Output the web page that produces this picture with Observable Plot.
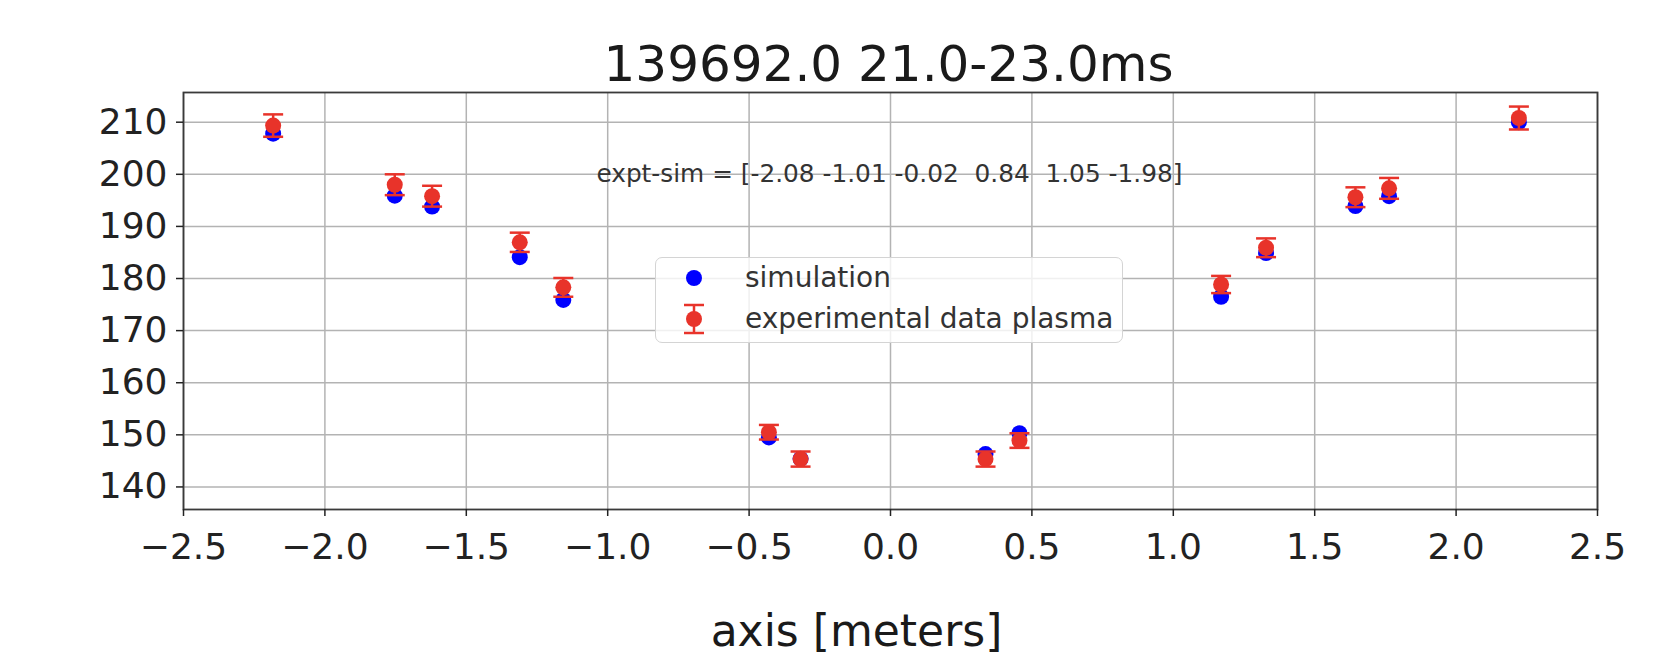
<!DOCTYPE html>
<html>
<head>
<meta charset="utf-8">
<script src="https://cdn.jsdelivr.net/npm/d3@7"></script>
<script src="https://cdn.jsdelivr.net/npm/@observablehq/plot@0.6"></script>
<style>
  body { margin: 0; background: #fff; }
  #wrap { position: relative; width: 1671px; height: 659px; }
  #wrap svg text { white-space: pre; }
  .legend {
    position: absolute; left: 655px; top: 257px; width: 466px; height: 84px;
    border: 1.5px solid #d4d4d4; border-radius: 7px; background: rgba(255,255,255,0.8);
    font-family: "DejaVu Sans", sans-serif; font-size: 28px; color: #333;
  }
  .legend .row { position: absolute; left: 0; width: 100%; height: 40px; }
  .legend .mk { position: absolute; left: 24px; top: 0; width: 28px; height: 40px; }
  .legend .lbl { position: absolute; left: 89px; top: 0; height: 40px; line-height: 40px; white-space: nowrap; }
</style>
</head>
<body>
<div id="wrap"></div>
<script>
// ---- data ----
const xPos = [-2.183, -1.753, -1.621, -1.311, -1.157, -0.430, -0.318, 0.336, 0.456, 1.169, 1.328, 1.644, 1.763, 2.222];
const simulation = [207.8, 195.9, 193.8, 184.1, 175.9, 149.5, 145.4, 146.3, 150.3, 176.5, 184.9, 193.9, 195.8, 210.0];
const experimental = [209.35, 198.0, 195.8, 186.95, 178.3, 150.5, 145.35, 145.35, 148.9, 178.85, 185.9, 195.6, 197.3, 210.8];
const expError = [2.15, 2.0, 2.0, 1.85, 1.8, 1.4, 1.45, 1.45, 1.4, 1.65, 1.8, 1.9, 2.0, 2.2];
const xTicks = [-2.5, -2.0, -1.5, -1.0, -0.5, 0.0, 0.5, 1.0, 1.5, 2.0, 2.5];
const yTicks = [140, 150, 160, 170, 180, 190, 200, 210];
const xDomain = [-2.5, 2.5];
const yDomain = [135.67, 215.7];
const titleText = "139692.0 21.0-23.0ms";
const xLabelText = "axis [meters]";
const annotationText = "expt-sim = [-2.08 -1.01 -0.02  0.84  1.05 -1.98]";
const annotationPos = {x: -1.04, y: 200};
const seriesNames = ["simulation", "experimental data plasma"];

// ---- tables built from the arrays ----
const simRows = xPos.map((x, i) => ({x, y: simulation[i]}));
const expRows = xPos.map((x, i) => ({x, y: experimental[i], lo: experimental[i] - expError[i], hi: experimental[i] + expError[i]}));

const BLUE = "#0000ff";
const RED = "#e8332a";
const capSymbol = {
  draw(ctx, size) {
    const w = Math.sqrt(size / Math.PI);
    ctx.moveTo(-w, 0); ctx.lineTo(w, 0);
  }
};

const chart = Plot.plot({
  width: 1671, height: 659,
  marginLeft: 183, marginRight: 74, marginTop: 92, marginBottom: 150,
  style: {fontFamily: "DejaVu Sans, sans-serif", color: "#222", background: "transparent"},
  x: {domain: xDomain},
  y: {domain: yDomain},
  marks: [
    Plot.gridX(xTicks, {stroke: "#b3b3b3", strokeOpacity: 1, strokeWidth: 1.5}),
    Plot.gridY(yTicks, {stroke: "#b3b3b3", strokeOpacity: 1, strokeWidth: 1.5}),
    Plot.frame({stroke: "#3a3a3a", strokeWidth: 1.8}),
    Plot.axisX(xTicks, {tickSize: 7, tickPadding: 17, fontSize: 36, tickFormat: d3.format(".1f"), label: null, strokeWidth: 1.5}),
    Plot.axisY(yTicks, {tickSize: 7, tickPadding: 9, fontSize: 36, tickFormat: d3.format("d"), label: null, strokeWidth: 1.5}),
    Plot.text([annotationText], {x: () => annotationPos.x, y: () => annotationPos.y, textAnchor: "start", lineAnchor: "middle", fontSize: 24.8, fill: "#333"}),
    Plot.dot(simRows, {x: "x", y: "y", r: 8, fill: BLUE, stroke: "none"}),
    Plot.ruleX(expRows, {x: "x", y1: "lo", y2: "hi", stroke: RED, strokeWidth: 2.5}),
    Plot.dot(expRows, {x: "x", y: "lo", r: 10, symbol: capSymbol, fill: "none", stroke: RED, strokeWidth: 2.5}),
    Plot.dot(expRows, {x: "x", y: "hi", r: 10, symbol: capSymbol, fill: "none", stroke: RED, strokeWidth: 2.5}),
    Plot.dot(expRows, {x: "x", y: "y", r: 8, fill: RED, stroke: "none"}),
    Plot.text([titleText], {frameAnchor: "top", lineAnchor: "middle", dy: -28, dx: -2, fontSize: 50, fill: "#1a1a1a"}),
    Plot.text([xLabelText], {frameAnchor: "bottom", lineAnchor: "middle", dy: 122, dx: -34, fontSize: 44, fill: "#1a1a1a"})
  ]
});

const wrap = document.getElementById("wrap");
wrap.appendChild(chart);

// legend
const legend = document.createElement("div");
legend.className = "legend";
const markers = [
  `<svg width="28" height="40" viewBox="-14 -20 28 40"><circle r="8" fill="${BLUE}"/></svg>`,
  `<svg width="28" height="40" viewBox="-14 -20 28 40"><line x1="0" x2="0" y1="-14" y2="14" stroke="${RED}" stroke-width="2.5"/><line x1="-10" x2="10" y1="-14" y2="-14" stroke="${RED}" stroke-width="2.5"/><line x1="-10" x2="10" y1="14" y2="14" stroke="${RED}" stroke-width="2.5"/><circle r="8" fill="${RED}"/></svg>`
];
seriesNames.forEach((name, i) => {
  const row = document.createElement("div");
  row.className = "row";
  row.style.top = (i === 0 ? 0 : 41) + "px";
  row.innerHTML = `<div class="mk">${markers[i]}</div><div class="lbl">${name}</div>`;
  legend.appendChild(row);
});
wrap.appendChild(legend);
</script>
</body>
</html>
